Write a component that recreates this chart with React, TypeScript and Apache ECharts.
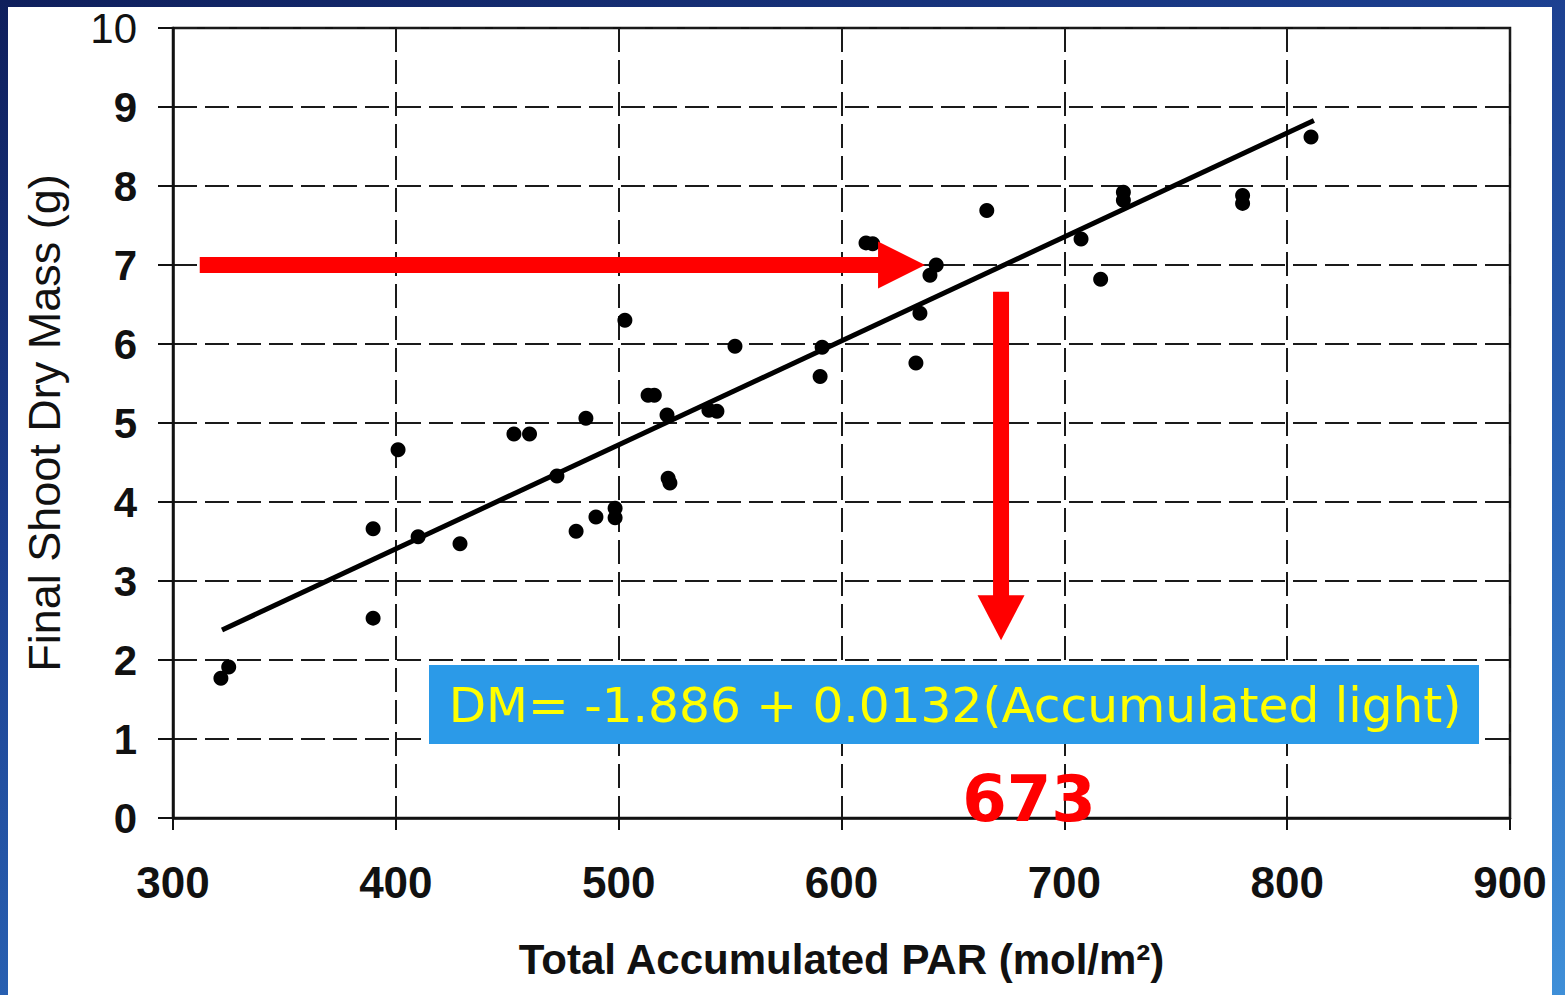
import React, { useEffect, useRef } from "react";
import * as echarts from "echarts";

// Axis ticks
const xTickMin = 300;
const xTickMax = 900;
const xTickStep = 100;
const yTickMin = 0;
const yTickMax = 10;
const yTickStep = 1;

// Observed points: total accumulated PAR (mol/m²) vs final shoot dry mass (g)
const pointPAR = [
  321.5, 325, 389.8, 389.8, 401, 410, 428.8, 453, 460, 472.3, 485.3, 480.9,
  489.8, 498.4, 498.4, 502.8, 513.2, 516, 521.7, 522.2, 523, 540.5, 544.1,
  552.2, 590.4, 591.3, 611, 614, 639.7, 642.5, 635.2, 633.4, 665.2, 707.5,
  716.3, 726.5, 726.5, 780, 780, 810.7,
];
const pointMass = [
  1.77, 1.91, 3.66, 2.53, 4.66, 3.56, 3.47, 4.86, 4.86, 4.33, 5.06, 3.63,
  3.81, 3.92, 3.8, 6.3, 5.35, 5.35, 5.1, 4.3, 4.24, 5.16, 5.15, 5.97, 5.59,
  5.96, 7.28, 7.27, 6.87, 7.0, 6.39, 5.76, 7.69, 7.33, 6.82, 7.92, 7.82, 7.88,
  7.78, 8.62,
];

// Regression line end points
const fitPAR = [322, 812];
const fitMass = [2.38, 8.83];

// Annotation anchors (data coordinates)
const hArrowMass = 7;
const hArrowStartPAR = 312;
const hArrowHeadPAR = 616.4;
const hArrowTipPAR = 637.5;
const vArrowPAR = 671.6;
const vArrowTopMass = 6.66;
const vArrowHeadMass = 2.82;
const vArrowTipMass = 2.25;

const equationText = "DM= -1.886 + 0.0132(Accumulated light)";
const resultText = "673";

export default function App() {
  const ref = useRef<HTMLDivElement>(null);

  useEffect(() => {
    const chart = echarts.init(ref.current!, null, { renderer: "svg" });
    const scatterData = pointPAR.map((x, i) => [x, pointMass[i]]);
    const fitData = fitPAR.map((x, i) => [x, fitMass[i]]);
    const gridLine = { show: true, lineStyle: { color: "#1a1a1a", width: 2, type: [24, 8] as any } };

    chart.setOption({
      animation: false,
      backgroundColor: "transparent",
      grid: {
        left: 173,
        right: 55,
        top: 28,
        bottom: 177,
        show: true,
        borderColor: "#111",
        borderWidth: 2.5,
        backgroundColor: "transparent",
      },
      xAxis: {
        type: "value",
        min: xTickMin,
        max: xTickMax,
        interval: xTickStep,
        name: "Total Accumulated PAR (mol/m²)",
        nameLocation: "middle",
        nameGap: 120,
        nameTextStyle: {
          fontFamily: "Liberation Sans",
          fontSize: 42,
          fontWeight: "bold",
          color: "#111",
        },
        axisLine: { show: true, lineStyle: { color: "#111", width: 2.5 } },
        axisTick: { show: true, inside: false, length: 12, lineStyle: { color: "#111", width: 2 } },
        axisLabel: {
          fontFamily: "Liberation Sans",
          fontSize: 44,
          fontWeight: "bold",
          color: "#111",
          margin: 42,
        },
        splitLine: gridLine,
      },
      yAxis: {
        type: "value",
        min: yTickMin,
        max: yTickMax,
        interval: yTickStep,
        name: "Final Shoot Dry Mass (g)",
        nameLocation: "middle",
        nameGap: 106,
        nameTextStyle: {
          fontFamily: "Liberation Sans",
          fontSize: 45,
          color: "#111",
        },
        axisLine: { show: true, lineStyle: { color: "#111", width: 2.5 } },
        axisTick: { show: true, inside: false, length: 15, lineStyle: { color: "#111", width: 2 } },
        axisLabel: {
          fontFamily: "Liberation Sans",
          fontSize: 42,
          fontWeight: "bold",
          color: "#111",
          margin: 36,
          formatter: (v: number) => (v === 10 ? "{thin|10}" : String(v)),
          rich: {
            thin: { fontFamily: "Liberation Sans", fontSize: 42, fontWeight: "normal", color: "#111" },
          },
        },
        splitLine: gridLine,
      },
      series: [
        {
          type: "line",
          data: fitData,
          symbol: "none",
          lineStyle: { color: "#000", width: 5 },
          z: 3,
        },
        {
          type: "scatter",
          data: scatterData,
          symbol: "circle",
          symbolSize: 15,
          itemStyle: { color: "#000", opacity: 1 },
          z: 4,
        },
      ],
    });

    const px = (x: number, y: number) => chart.convertToPixel({ gridIndex: 0 }, [x, y]) as number[];
    const hS = px(hArrowStartPAR, hArrowMass);
    const hB = px(hArrowHeadPAR, hArrowMass);
    const hT = px(hArrowTipPAR, hArrowMass);
    const vS = px(vArrowPAR, vArrowTopMass);
    const vB = px(vArrowPAR, vArrowHeadMass);
    const vT = px(vArrowPAR, vArrowTipMass);
    const shaftHalf = 8;
    const headHalf = 23.5;
    const red = "#ff0000";

    chart.setOption({
      graphic: [
        {
          type: "rect",
          z: 100,
          shape: { x: hS[0], y: hS[1] - shaftHalf, width: hB[0] - hS[0] + 1, height: shaftHalf * 2 },
          style: { fill: red },
        },
        {
          type: "polygon",
          z: 100,
          shape: { points: [[hB[0], hB[1] - headHalf], [hT[0], hT[1]], [hB[0], hB[1] + headHalf]] },
          style: { fill: red },
        },
        {
          type: "rect",
          z: 100,
          shape: { x: vS[0] - shaftHalf, y: vS[1], width: shaftHalf * 2, height: vB[1] - vS[1] + 1 },
          style: { fill: red },
        },
        {
          type: "polygon",
          z: 100,
          shape: { points: [[vB[0] - headHalf, vB[1]], [vT[0], vT[1]], [vB[0] + headHalf, vB[1]]] },
          style: { fill: red },
        },
        {
          type: "rect",
          z: 100,
          shape: { x: 429, y: 665, width: 1050, height: 79 },
          style: { fill: "#2b9ae8" },
        },
        {
          type: "text",
          z: 101,
          x: 955,
          y: 705,
          style: {
            text: equationText,
            fill: "#ffff00",
            font: "48.6px 'DejaVu Sans'",
            align: "center",
            verticalAlign: "middle",
          },
        },
        {
          type: "text",
          z: 101,
          x: 1029,
          y: 799,
          style: {
            text: resultText,
            fill: red,
            font: "bold 64px 'DejaVu Sans'",
            align: "center",
            verticalAlign: "middle",
          },
        },
      ],
    });

    return () => chart.dispose();
  }, []);

  return (
    <div
      style={{
        position: "absolute",
        left: 0,
        top: 0,
        width: 1565,
        height: 995,
        overflow: "hidden",
        background:
          "linear-gradient(160deg, #0f1f5c 0%, #1c3f8f 35%, #2a66b8 70%, #3f8fd8 100%)",
      }}
    >
      <div
        style={{ position: "absolute", left: 8, top: 7, width: 1544, height: 988, background: "#ffffff" }}
      />
      <div ref={ref} style={{ position: "absolute", left: 0, top: 0, width: 1565, height: 995 }} />
    </div>
  );
}
